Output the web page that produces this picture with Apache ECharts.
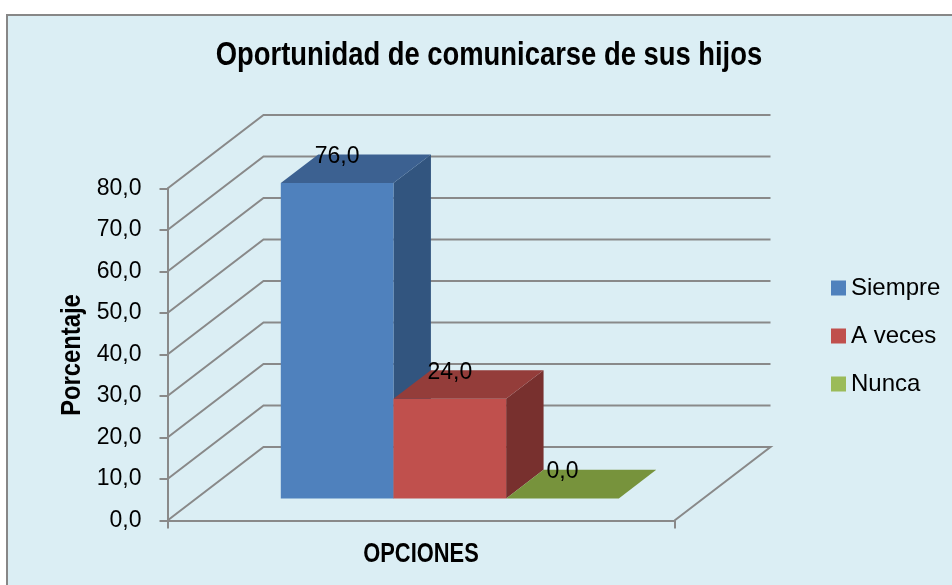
<!DOCTYPE html>
<html><head><meta charset="utf-8">
<script src="https://cdn.jsdelivr.net/npm/echarts@6/dist/echarts.min.js"></script>
<style>html,body{margin:0;padding:0;background:#fff}#c{width:952px;height:585px}</style>
</head><body><div id="c"></div>
<script>
const categories = ['OPCIONES'];
const seriesNames = ['Siempre', 'A veces', 'Nunca'];
const siempre = [76.0];
const aVeces = [24.0];
const nunca = [0.0];
const yTicks = [0, 10, 20, 30, 40, 50, 60, 70, 80];
const titleText = 'Oportunidad de comunicarse de sus hijos';
const xTitle = 'OPCIONES';
const yTitle = 'Porcentaje';

const REG = '"Liberation Sans",Arial,sans-serif';
const DX = 96, DY = -73.5;
const FRONT = 0.30, DEPTH = 0.39;
const GRID_COL = '#898989';
const palette = [
  {front: '#4F81BD', top: '#3C6191', side: '#32557F', legend: '#4F81BD'},
  {front: '#C0504D', top: '#943D3A', side: '#78302E', legend: '#C0504D'},
  {front: '#77933C', top: '#77933C', side: '#5E7530', legend: '#9BBB59'}
];
const fmt = v => Number(v).toFixed(1).replace('.', ',');

function barRenderer(idx) {
  return function (params, api) {
    const ci = api.value(0);
    const v = api.value(1);
    const band = api.size([1, 0])[0];
    const c0 = api.coord([ci, 0]);
    const cv = api.coord([ci, v]);
    const bw = band * (2 / 3) / 3;
    const ox = DX * FRONT, oy = DY * FRONT;
    const dx = DX * DEPTH, dy = DY * DEPTH;
    const x0 = c0[0] - 1.5 * bw + idx * bw + ox;
    const x1 = x0 + bw;
    const yb = c0[1] + oy;
    const yt = cv[1] + oy;
    const col = palette[idx];
    const children = [];
    if (yb - yt > 0.5) {
      children.push({type: 'polygon', shape: {points: [[x1, yb], [x1 + dx, yb + dy], [x1 + dx, yt + dy], [x1, yt]]}, style: {fill: col.side}});
      children.push({type: 'rect', shape: {x: x0, y: yt, width: bw, height: yb - yt}, style: {fill: col.front}});
    }
    children.push({type: 'polygon', shape: {points: [[x0, yt], [x1, yt], [x1 + dx, yt + dy], [x0 + dx, yt + dy]]}, style: {fill: col.top}});
    children.push({type: 'text', style: {text: fmt(v), x: (x0 + x1) / 2, y: yt + dy + 2, align: 'center', verticalAlign: 'middle', fill: '#000', fontSize: 23, fontFamily: REG}});
    return {type: 'group', children: children};
  };
}

function narrowText(text, x, y, size, scale, rot) {
  return {
    type: 'text', x: x, y: y, rotation: rot || 0, scaleX: scale, silent: true, z: 10,
    style: {text: text, x: 0, y: 0, align: 'center', verticalAlign: 'middle',
      fontFamily: REG, fontWeight: 'bold', fontSize: size, fill: '#000'}
  };
}

const seriesData = [siempre, aVeces, nunca];
const chart = echarts.init(document.getElementById('c'));
chart.setOption({
  backgroundColor: 'transparent',
  animation: false,
  graphic: {elements: [
    {type: 'rect', z: -100, silent: true, shape: {x: 7, y: 15, width: 1000, height: 700}, style: {fill: '#DBEEF4', stroke: '#878787', lineWidth: 2}},
    narrowText(titleText, 489, 56, 33, 0.83),
    narrowText(xTitle, 421, 555, 27, 0.81),
    narrowText(yTitle, 72, 355, 28, 0.85, Math.PI / 2)
  ]},
  legend: {
    data: seriesNames, orient: 'vertical', left: 831, top: 276, padding: 0,
    itemWidth: 15, itemHeight: 15, itemGap: 24, icon: 'rect',
    textStyle: {fontFamily: REG, fontSize: 24, color: '#000'}
  },
  grid: {left: 167.5, right: 277.5, top: 188.5, bottom: 64.5, containLabel: false},
  xAxis: {
    type: 'category', data: categories,
    axisLine: {lineStyle: {color: GRID_COL, width: 2}},
    axisTick: {show: true, length: 8, lineStyle: {color: GRID_COL, width: 2}},
    axisLabel: {show: false}
  },
  yAxis: {
    type: 'value', min: 0, max: 80, interval: 10,
    axisLine: {show: true, lineStyle: {color: GRID_COL, width: 2}},
    axisTick: {show: true, length: 8, lineStyle: {color: GRID_COL, width: 2}},
    splitLine: {show: false},
    axisLabel: {margin: 26, formatter: fmt, fontFamily: REG, fontSize: 23, color: '#000'}
  },
  series: [
    {
      type: 'custom', name: 'walls', silent: true, z: 1,
      data: yTicks.map(v => [0, v]),
      encode: {x: 0, y: 1},
      renderItem: function (params, api) {
        const v = api.value(1);
        const band = api.size([1, 0])[0];
        const c = api.coord([0, v]);
        const L = c[0] - band / 2, R = c[0] + band / 2, y = c[1];
        const pts = [[L, y], [L + DX, y + DY], [R + DX, y + DY]];
        if (v === 0) pts.push([R, y]);
        return {type: 'polyline', shape: {points: pts}, style: {stroke: GRID_COL, lineWidth: 2, fill: null}};
      }
    }
  ].concat(seriesNames.map((n, i) => ({
    type: 'custom', name: n, z: 3 + i,
    itemStyle: {color: palette[i].legend},
    data: seriesData[i].map((v, k) => [k, v]),
    encode: {x: 0, y: 1},
    renderItem: barRenderer(i)
  })))
});
</script>
</body></html>
